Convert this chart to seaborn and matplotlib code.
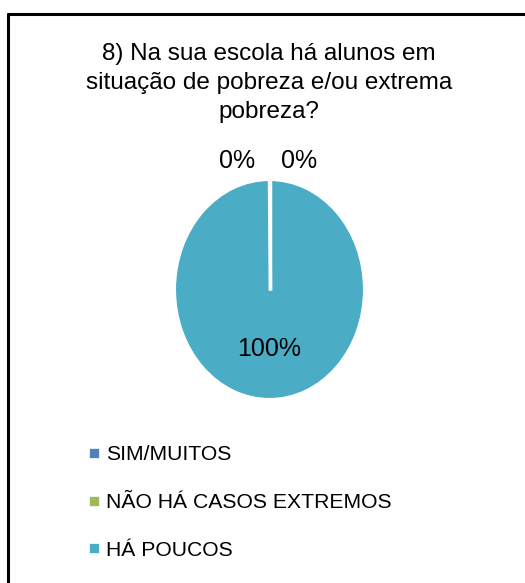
import numpy as np
import matplotlib
matplotlib.use("Agg")
import matplotlib.pyplot as plt
import seaborn as sns
from matplotlib.lines import Line2D

# data
categories = ['SIM/MUITOS', 'NÃO HÁ CASOS EXTREMOS', 'HÁ POUCOS']
values = [0, 0, 100]
colors = ['#4F81BD', '#9BBB59', '#4BACC6']
title = '8) Na sua escola há alunos em\nsituação de pobreza e/ou extrema\npobreza?'

sns.set_style('white')
plt.rcParams['font.family'] = ['Liberation Sans', 'DejaVu Sans']
plt.rcParams['text.color'] = 'black'

W, H = 525, 583
fig = plt.figure(figsize=(W / 100, H / 100), dpi=100)

# outer frame (right and bottom edges are cut off in the original)
fig.add_artist(Line2D([8 / W, 8 / W], [0, 1 - 14 / H], color='black', lw=2.2,
                      transform=fig.transFigure))
fig.add_artist(Line2D([8 / W, 1], [1 - 14 / H, 1 - 14 / H], color='black', lw=2.2,
                      transform=fig.transFigure))

fig.text(269 / W, 1 - 83 / H, title, ha='center', va='center', fontsize=17.5,
         linespacing=1.42, color='black')

# pie axes, stretched vertically like the original
ax = fig.add_axes([175 / W, 1 - 399 / H, 189 / W, 219 / H])
wedges, _ = ax.pie(values, colors=colors, startangle=90, counterclock=False,
                   wedgeprops=dict(edgecolor='white', linewidth=1.5))
ax.set_aspect('auto')
ax.set_xlim(-1, 1)
ax.set_ylim(-1, 1)
ax.axis('off')

# white separator where the zero slices sit
for w in wedges[:2]:
    t = np.deg2rad(w.theta1)
    ax.plot([0, np.cos(t)], [0, np.sin(t)], color='white', lw=2.5,
            solid_capstyle='butt')

total = sum(values)
offsets = [-0.34, 0.31, 0]
for w, v, dx in zip(wedges, values, offsets):
    mid = np.deg2rad((w.theta1 + w.theta2) / 2)
    r = 0.54 if v > 0 else 1.17
    ax.text(r * np.cos(mid) + dx, r * np.sin(mid), f'{v / total:.0%}',
            ha='center', va='center', fontsize=18, color='black', clip_on=False)

handles = [Line2D([], [], marker='s', linestyle='none', markersize=7,
                  markerfacecolor=c, markeredgecolor='white', markeredgewidth=0.5)
           for c in colors]
leg = fig.legend(handles, categories, loc='upper left',
                 bbox_to_anchor=(79 / W, 1 - 437 / H), frameon=False, fontsize=15.2,
                 handlelength=0.6, handletextpad=0.3, labelspacing=1.36,
                 borderaxespad=0)
for t in leg.get_texts():
    t.set_color('black')

fig.savefig('out.png', dpi=100)
